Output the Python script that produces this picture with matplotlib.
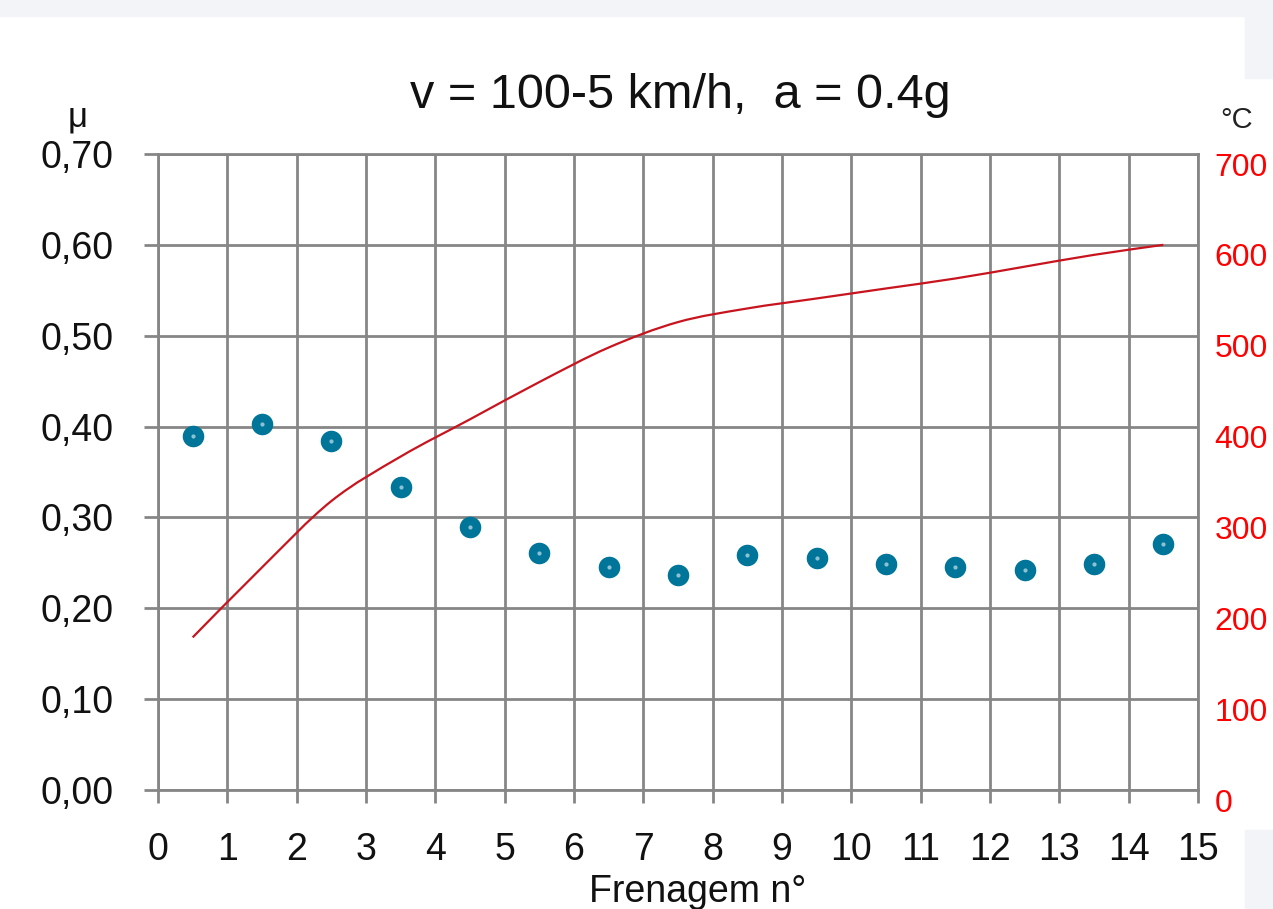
import matplotlib
matplotlib.use('Agg')
import matplotlib.pyplot as plt
import matplotlib.transforms as mtrans
from matplotlib.patches import Rectangle, PathPatch
from matplotlib.path import Path

plt.rcParams['font.family'] = ['Liberation Sans', 'DejaVu Sans']

# braking number (bar centre) and friction coefficient / temperature
frenagem = [0.5, 1.5, 2.5, 3.5, 4.5, 5.5, 6.5, 7.5, 8.5, 9.5, 10.5, 11.5, 12.5, 13.5, 14.5]
mu = [0.390, 0.403, 0.384, 0.333, 0.289, 0.261, 0.245, 0.237, 0.259, 0.255,
      0.249, 0.245, 0.242, 0.249, 0.271]
temp = [168, 245, 318, 367, 408, 449, 487, 515, 530, 541, 552, 563, 576, 589, 600]

x_ticks = list(range(0, 16))
mu_ticks = [0.0, 0.1, 0.2, 0.3, 0.4, 0.5, 0.6, 0.7]
mu_labels = ['0,00', '0,10', '0,20', '0,30', '0,40', '0,50', '0,60', '0,70']
t_ticks = [0, 100, 200, 300, 400, 500, 600, 700]

W, H = 1273, 909
fig = plt.figure(figsize=(W / 100, H / 100), dpi=100)
fig.patch.set_facecolor('white')

# screenshot borders
bg = '#f3f4f7'
fig.patches.append(Rectangle((0, 1 - 16 / H), 1, 16 / H, transform=fig.transFigure, color=bg, zorder=0))
fig.patches.append(Rectangle((1245 / W, 1 - 78 / H), 28 / W, 62 / H, transform=fig.transFigure, color=bg, zorder=0))
fig.patches.append(Rectangle((1245 / W, 0), 28 / W, 79 / H, transform=fig.transFigure, color=bg, zorder=0))

ax1 = fig.add_axes([158 / W, 1 - 790 / H, 1040 / W, 636 / H])
grid_c = '#868686'

ax1.set_xlim(0, 15)
ax1.set_ylim(0, 0.7)
ax1.set_xticks(x_ticks)
ax1.set_yticks(mu_ticks)
ax1.set_yticklabels(mu_labels)
ax1.grid(True, color=grid_c, linewidth=2)
ax1.set_axisbelow(True)
for s in ax1.spines.values():
    s.set_color(grid_c)
    s.set_linewidth(2)
ax1.tick_params(axis='x', length=9, width=2, color=grid_c, labelsize=27, pad=21, labelcolor='#111111')
ax1.tick_params(axis='y', length=10, width=2, color=grid_c, labelsize=27, pad=22, labelcolor='#111111')

ax1.plot(frenagem, mu, 'o', color='#00759a', markersize=14.5, zorder=4)
ax1.plot(frenagem, mu, 'o', color='#8ec2d2', markersize=2, zorder=5)

ax2 = ax1.twinx()
ax2.set_ylim(0, 700)
ax2.set_yticks(t_ticks)
ax2.tick_params(axis='y', length=0, labelsize=23, pad=12, labelcolor='#ff0000')
for s in ax2.spines.values():
    s.set_visible(False)
off = mtrans.ScaledTranslation(0, -0.10, fig.dpi_scale_trans)
for lab in ax2.get_yticklabels():
    lab.set_transform(lab.get_transform() + off)

# smoothed line like the spreadsheet (cubic bezier through the points)
verts = [(frenagem[0], temp[0])]
codes = [Path.MOVETO]
n = len(frenagem)
for i in range(n - 1):
    x0, y0 = frenagem[max(i - 1, 0)], temp[max(i - 1, 0)]
    x1, y1 = frenagem[i], temp[i]
    x2, y2 = frenagem[i + 1], temp[i + 1]
    x3, y3 = frenagem[min(i + 2, n - 1)], temp[min(i + 2, n - 1)]
    c1 = (x1 + (x2 - x0) / 6, y1 + (y2 - y0) / 6)
    c2 = (x2 - (x3 - x1) / 6, y2 - (y3 - y1) / 6)
    verts += [c1, c2, (x2, y2)]
    codes += [Path.CURVE4] * 3
ax2.add_patch(PathPatch(Path(verts, codes), facecolor='none', edgecolor='#c8141e',
                        linewidth=1.6, zorder=3))

fig.text(680 / W, 1 - 108 / H, 'v = 100-5 km/h,  a = 0.4g', ha='center', va='baseline',
         fontsize=35, color='#111111')
fig.text(78 / W, 1 - 117 / H, 'μ', ha='center', va='center', fontsize=25, color='#111111')
fig.text(1237 / W, 1 - 120 / H, '°C', ha='center', va='center', fontsize=21, color='#222222')
fig.text(698 / W, 1 - 874 / H, 'Frenagem n°', ha='center', va='top', fontsize=27, color='#111111')

fig.savefig('out.png', dpi=100)
